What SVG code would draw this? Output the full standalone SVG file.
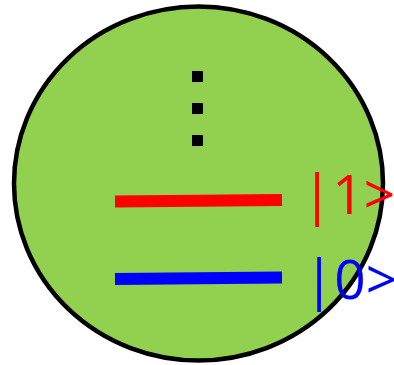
<svg xmlns="http://www.w3.org/2000/svg" width="394" height="365" viewBox="0 0 394 365">
<style>
.dot{fill:#000}
.lbl{font-family:"Open Sans","Liberation Sans",sans-serif;font-size:55px}
</style>
<g id="sphere"><ellipse cx="198.5" cy="183.5" rx="184.5" ry="177" fill="#92d050" stroke="#000" stroke-width="4.5"/></g>
<g id="dots">
<rect class="dot" x="192" y="71" width="11" height="11"/>
<rect class="dot" x="192" y="103" width="11" height="11"/>
<rect class="dot" x="192" y="135" width="11" height="11"/>
</g>
<g id="level1"><line x1="115" y1="201.5" x2="282" y2="200" stroke="#ff0000" stroke-width="12"/><text class="lbl" x="302" y="214" fill="#ff0000">|1&gt;</text></g>
<g id="level0"><line x1="115" y1="279" x2="282" y2="277.5" stroke="#0000ff" stroke-width="12"/><text class="lbl" x="304" y="299" fill="#0000ff">|0&gt;</text></g>
</svg>
